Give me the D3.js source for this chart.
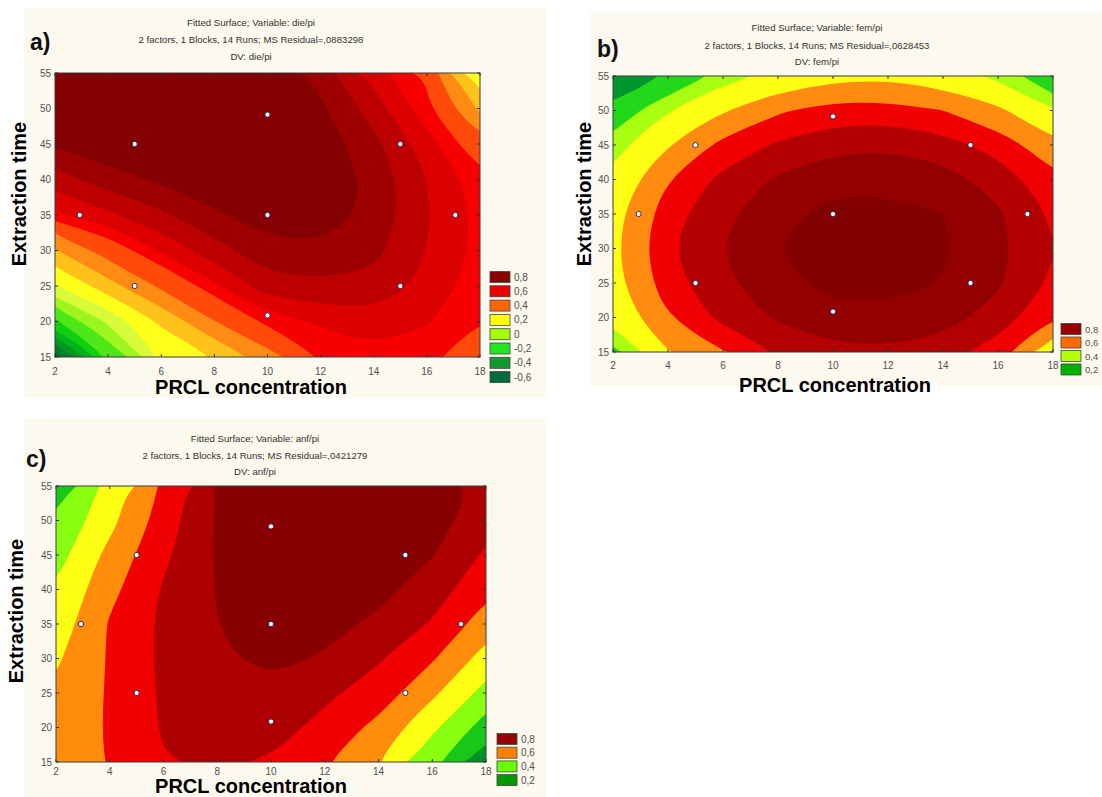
<!DOCTYPE html>
<html lang="en">
<head>
<meta charset="utf-8">
<title>Fitted surfaces: die/pi, fem/pi, anf/pi</title>
<script src="https://cdn.jsdelivr.net/npm/d3@7"></script>
<style>
  body { margin: 0; background: #fff; }
  svg { display: block; font-family: "Liberation Sans", Arial, sans-serif; }
</style>
</head>
<body>
<svg id="chart" width="1102" height="797"></svg>
<script>
// grid the fitted surfaces were read on
const prcl = [2, 4, 6, 8, 10, 12, 14, 16, 18];
const time = [15, 20, 25, 30, 35, 40, 45, 50, 55];

const xTicks = [2, 4, 6, 8, 10, 12, 14, 16, 18];
const yTicks = [15, 20, 25, 30, 35, 40, 45, 50, 55];

// design points (central composite design)
const runX = [5, 5, 15, 15, 2.93, 17.07, 10, 10, 10];
const runY = [25, 45, 25, 45, 35, 35, 20.86, 49.14, 35];

// die/pi, one row per extraction time (15 -> 55), one column per concentration
const diePi = [
  [-0.55, -0.10, 0.22, 0.30, 0.46, 0.60, 0.635, 0.62, 0.55],
  [-0.12, 0.12, 0.32, 0.50, 0.62, 0.66, 0.68, 0.655, 0.60],
  [0.19, 0.36, 0.52, 0.64, 0.73, 0.74, 0.735, 0.685, 0.625],
  [0.39, 0.55, 0.66, 0.73, 0.78, 0.79, 0.765, 0.70, 0.635],
  [0.64, 0.69, 0.74, 0.79, 0.83, 0.83, 0.785, 0.705, 0.635],
  [0.73, 0.775, 0.81, 0.84, 0.855, 0.84, 0.785, 0.70, 0.625],
  [0.805, 0.84, 0.87, 0.88, 0.87, 0.83, 0.765, 0.675, 0.55],
  [0.87, 0.89, 0.90, 0.90, 0.87, 0.81, 0.725, 0.62, 0.38],
  [0.86, 0.88, 0.89, 0.88, 0.85, 0.78, 0.68, 0.585, 0.22]
];
const dieLevels = [-0.5, -0.4, -0.3, -0.2, -0.1, 0, 0.1, 0.2, 0.3, 0.4, 0.5, 0.6, 0.65, 0.7, 0.75, 0.8];
const dieLegend = ["0,8", "0,6", "0,4", "0,2", "0", "-0,2", "-0,4", "-0,6"];

// fem/pi
const femPi = [
  [0.38, 0.565, 0.645, 0.725, 0.77, 0.78, 0.75, 0.685, 0.52],
  [0.50, 0.65, 0.74, 0.80, 0.84, 0.84, 0.82, 0.76, 0.65],
  [0.54, 0.69, 0.775, 0.84, 0.88, 0.88, 0.86, 0.80, 0.71],
  [0.55, 0.71, 0.79, 0.86, 0.89, 0.90, 0.87, 0.81, 0.72],
  [0.54, 0.69, 0.775, 0.84, 0.88, 0.88, 0.86, 0.80, 0.71],
  [0.50, 0.65, 0.74, 0.80, 0.84, 0.84, 0.82, 0.76, 0.67],
  [0.43, 0.57, 0.67, 0.73, 0.77, 0.78, 0.75, 0.69, 0.60],
  [0.34, 0.47, 0.57, 0.64, 0.68, 0.68, 0.65, 0.59, 0.47],
  [0.19, 0.31, 0.43, 0.50, 0.545, 0.555, 0.52, 0.45, 0.33]
];
const femLevels = [0.3, 0.4, 0.47, 0.57, 0.65, 0.72, 0.79, 0.86];
const femLegend = ["0,8", "0,6", "0,4", "0,2"];

// anf/pi
const anfPi = [
  [0.55, 0.605, 0.695, 0.71, 0.69, 0.61, 0.50, 0.33, 0.13],
  [0.54, 0.61, 0.71, 0.745, 0.74, 0.67, 0.57, 0.42, 0.255],
  [0.52, 0.61, 0.715, 0.76, 0.77, 0.72, 0.655, 0.52, 0.365],
  [0.485, 0.61, 0.72, 0.785, 0.825, 0.79, 0.71, 0.61, 0.46],
  [0.44, 0.61, 0.72, 0.80, 0.845, 0.83, 0.78, 0.69, 0.55],
  [0.41, 0.57, 0.71, 0.805, 0.86, 0.86, 0.83, 0.75, 0.625],
  [0.36, 0.53, 0.68, 0.81, 0.87, 0.88, 0.86, 0.805, 0.685],
  [0.31, 0.47, 0.645, 0.81, 0.87, 0.89, 0.885, 0.84, 0.745],
  [0.25, 0.44, 0.62, 0.81, 0.86, 0.88, 0.88, 0.85, 0.78]
];
const anfLevels = [0.2, 0.3, 0.4, 0.5, 0.6, 0.7, 0.8];
const anfLegend = ["0,8", "0,6", "0,4", "0,2"];

// band fills, lowest band first
const dieColors = ["#006633", "#007f2a", "#009822", "#00b41a", "#10d010", "#4ee818", "#9cf51c", "#d8fb3a",
  "#ffff1a", "#ffc21a", "#ff8a14", "#ff4a0a", "#f80000", "#dc0000", "#bc0000", "#9e0000", "#850000"];
const femColors = ["#00962e", "#22d81a", "#aaff10", "#ffff14", "#ff8c10", "#f00000", "#b40000", "#920000", "#820000"];
const anfColors = ["#00922a", "#18c818", "#88ff10", "#ffff14", "#ff8c0a", "#f00000", "#ad0000", "#880000"];

const dieKey = ["#8b0000", "#e80000", "#ff6600", "#ffff00", "#a6ff00", "#22e622", "#109a30", "#006b3c"];
const femKey = ["#990000", "#ff6a00", "#b4ff00", "#00b000"];
const anfKey = ["#990000", "#ff8000", "#66ff00", "#009900"];

const panels = [
  { letter: "a)", values: diePi, levels: dieLevels, fills: dieColors, legend: dieLegend, key: dieKey,
    dv: "die/pi", resid: ",0883298", box: [24, 8, 547, 398], plot: [55, 73, 480, 357],
    titleX: 251, titleY: [26, 43, 60], letterAt: [30, 50], xTitle: [251, 394], yTitle: [26, 194],
    tickY: 375, legendX: 490, legendY: 277, legendStep: 14.3, keyFont: 10 },
  { letter: "b)", values: femPi, levels: femLevels, fills: femColors, legend: femLegend, key: femKey,
    dv: "fem/pi", resid: ",0628453", box: [590, 12, 1102, 386], plot: [613, 76, 1053, 352],
    titleX: 817, titleY: [31, 49, 65], letterAt: [597, 57], xTitle: [835, 392], yTitle: [591, 194],
    tickY: 369, legendX: 1061, legendY: 329, legendStep: 13.5, keyFont: 9.5 },
  { letter: "c)", values: anfPi, levels: anfLevels, fills: anfColors, legend: anfLegend, key: anfKey,
    dv: "anf/pi", resid: ",0421279", box: [24, 418, 547, 797], plot: [56, 486, 486, 762],
    titleX: 255, titleY: [442, 459, 475], letterAt: [26, 467], xTitle: [251, 793], yTitle: [23, 611],
    tickY: 775, legendX: 497, legendY: 739, legendStep: 13.7, keyFont: 10 }
];

const svg = d3.select("#chart");
svg.append("rect").attr("width", 1102).attr("height", 797).attr("fill", "#fff");

panels.forEach(function(p, k) {
  const g = svg.append("g");
  const [bx0, by0, bx1, by1] = p.box;
  const [px0, py0, px1, py1] = p.plot;

  g.append("rect")
    .attr("x", bx0).attr("y", by0)
    .attr("width", bx1 - bx0).attr("height", by1 - by0)
    .attr("fill", "#fcf9ef");

  const x = d3.scaleLinear().domain([2, 18]).range([px0, px1]);
  const y = d3.scaleLinear().domain([15, 55]).range([py1, py0]);
  // contour grid coordinates -> data units
  const gx = d3.scaleLinear().domain([0.5, prcl.length - 0.5]).range([prcl[0], prcl[prcl.length - 1]]);
  const gy = d3.scaleLinear().domain([0.5, time.length - 0.5]).range([time[0], time[time.length - 1]]);

  const clipId = "clip" + k;
  g.append("clipPath").attr("id", clipId)
    .append("rect").attr("x", px0).attr("y", py0)
    .attr("width", px1 - px0).attr("height", py1 - py0);

  const area = g.append("g").attr("clip-path", "url(#" + clipId + ")");
  area.append("rect")
    .attr("x", px0).attr("y", py0)
    .attr("width", px1 - px0).attr("height", py1 - py0)
    .attr("fill", p.fills[0]);

  const bands = d3.contours()
    .size([prcl.length, time.length])
    .thresholds(p.levels)(p.values.flat());

  const ringLine = d3.line()
    .x(d => x(gx(d[0])))
    .y(d => y(gy(d[1])))
    .curve(d3.curveBasisClosed);

  function bandPath(mp) {
    let d = "";
    mp.coordinates.forEach(function(poly) {
      poly.forEach(function(ring) {
        const pts = ring.slice(0, -1).filter((q, i, a) =>
          i === 0 || q[0] !== a[i - 1][0] || q[1] !== a[i - 1][1]);
        if (pts.length > 2) d += ringLine(pts);
      });
    });
    return d;
  }

  area.selectAll("path.band")
    .data(bands)
    .join("path")
    .attr("class", "band")
    .attr("d", bandPath)
    .attr("fill-rule", "evenodd")
    .attr("fill", (d, i) => p.fills[i + 1]);

  // frame and ticks
  g.append("rect")
    .attr("x", px0).attr("y", py0)
    .attr("width", px1 - px0).attr("height", py1 - py0)
    .attr("fill", "none").attr("stroke", "#3c3c3c").attr("stroke-width", 1);

  const ticks = g.append("g").attr("stroke", "#333").attr("stroke-width", 1);
  xTicks.forEach(function(t) {
    ticks.append("line").attr("x1", x(t)).attr("x2", x(t)).attr("y1", py1).attr("y2", py1 - 3);
    ticks.append("line").attr("x1", x(t)).attr("x2", x(t)).attr("y1", py0).attr("y2", py0 + 3);
  });
  yTicks.forEach(function(t) {
    ticks.append("line").attr("x1", px0).attr("x2", px0 + 3).attr("y1", y(t)).attr("y2", y(t));
    ticks.append("line").attr("x1", px1).attr("x2", px1 - 3).attr("y1", y(t)).attr("y2", y(t));
  });

  g.selectAll("text.xt")
    .data(xTicks)
    .join("text")
    .attr("class", "xt")
    .attr("x", d => x(d)).attr("y", p.tickY)
    .attr("text-anchor", "middle")
    .attr("font-size", 10).attr("fill", "#505050")
    .text(d => d);

  g.selectAll("text.yt")
    .data(yTicks)
    .join("text")
    .attr("class", "yt")
    .attr("x", px0 - 4).attr("y", d => y(d) + 3.5)
    .attr("text-anchor", "end")
    .attr("font-size", 10).attr("fill", "#505050")
    .text(d => d);

  // design points
  g.selectAll("circle.run")
    .data(runX.map((v, i) => [v, runY[i]]))
    .join("circle")
    .attr("class", "run")
    .attr("cx", d => x(d[0])).attr("cy", d => y(d[1]))
    .attr("r", 2.6)
    .attr("fill", "#fff").attr("stroke", "#2e2a5c").attr("stroke-width", 1);

  // legend
  p.legend.forEach(function(lab, i) {
    const ly = p.legendY + i * p.legendStep;
    g.append("rect")
      .attr("x", p.legendX).attr("y", ly - 5.5)
      .attr("width", 20).attr("height", 11)
      .attr("fill", p.key[i]).attr("stroke", "#444").attr("stroke-width", 0.8);
    g.append("text")
      .attr("x", p.legendX + 24).attr("y", ly + 3.5)
      .attr("font-size", p.keyFont).attr("fill", "#505050")
      .text(lab);
  });

  // titles
  const lines = ["Fitted Surface; Variable: " + p.dv,
    "2 factors, 1 Blocks, 14 Runs; MS Residual=" + p.resid,
    "DV: " + p.dv];
  lines.forEach(function(s, i) {
    g.append("text")
      .attr("x", p.titleX).attr("y", p.titleY[i])
      .attr("text-anchor", "middle")
      .attr("font-size", 9.6).attr("fill", "#333")
      .text(s);
  });

  g.append("text")
    .attr("x", p.letterAt[0]).attr("y", p.letterAt[1])
    .attr("font-size", 23).attr("font-weight", "bold").attr("fill", "#111")
    .text(p.letter);

  g.append("text")
    .attr("x", p.xTitle[0]).attr("y", p.xTitle[1])
    .attr("text-anchor", "middle")
    .attr("font-size", 20).attr("font-weight", "bold").attr("fill", "#000")
    .text("PRCL concentration");

  g.append("text")
    .attr("transform", "translate(" + p.yTitle[0] + "," + p.yTitle[1] + ") rotate(-90)")
    .attr("text-anchor", "middle")
    .attr("font-size", 20).attr("font-weight", "bold").attr("fill", "#000")
    .text("Extraction time");
});
</script>
</body>
</html>
